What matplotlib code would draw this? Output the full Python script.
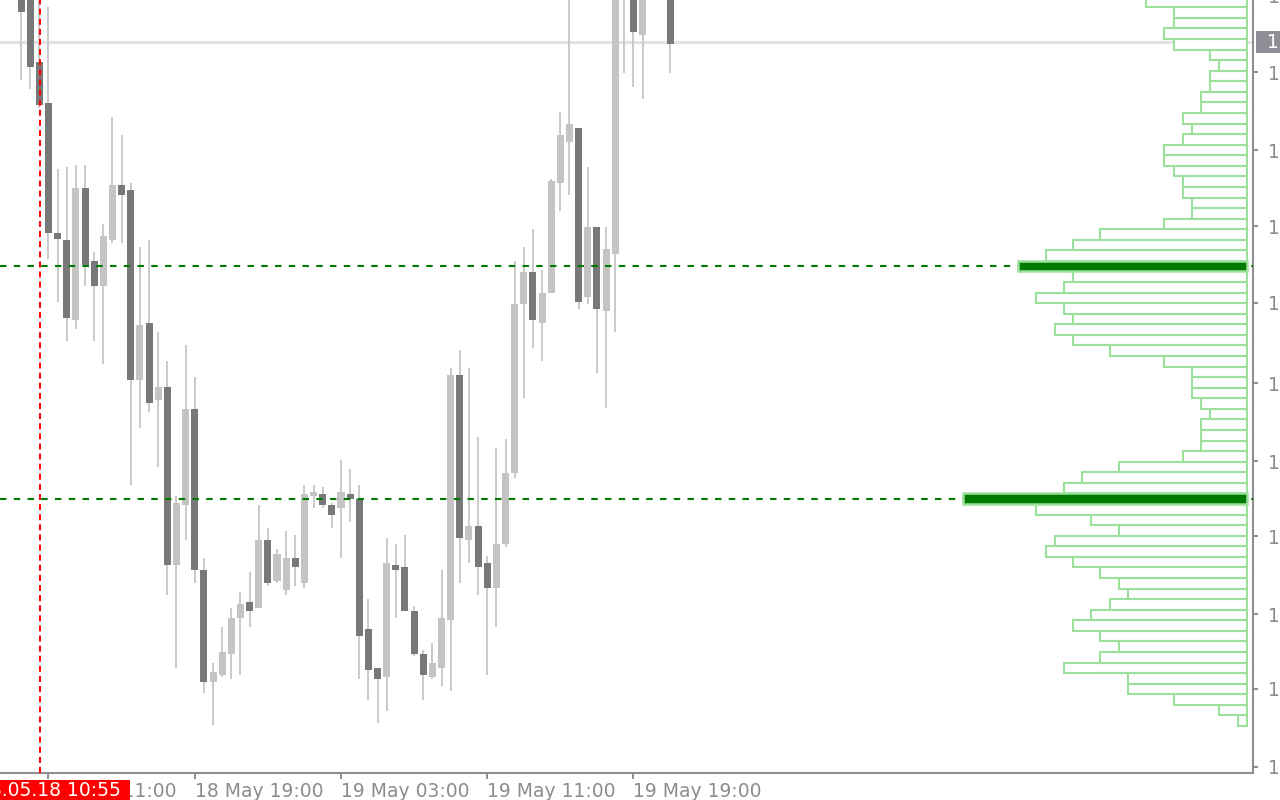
import matplotlib
matplotlib.use("Agg")
import matplotlib.pyplot as plt
from matplotlib.patches import Rectangle
import numpy as np
import pandas as pd

# ---------------- data ----------------
start_time = "2018-05-18 09:30"   # first M30 candle shown
opens = [1.18015, 1.18005, 1.17938, 1.17897, 1.17767, 1.17760, 1.17680, 1.17812, 1.17739, 1.17714,
         1.17760, 1.17815, 1.17810, 1.17620, 1.17677, 1.17600, 1.17613, 1.17435, 1.17495, 1.17591,
         1.17430, 1.17318, 1.17325, 1.17346, 1.17382, 1.17398, 1.17392, 1.17460, 1.17419, 1.17410,
         1.17442, 1.17417, 1.17504, 1.17506, 1.17495, 1.17492, 1.17506, 1.17501, 1.17371, 1.17332,
         1.17323, 1.17435, 1.17433, 1.17389, 1.17346, 1.17323, 1.17332, 1.17380, 1.17625, 1.17460,
         1.17474, 1.17437, 1.17412, 1.17456, 1.17527, 1.17696, 1.17728, 1.17677, 1.17707, 1.17817,
         1.17858, 1.17872, 1.17703, 1.17773, 1.17689, 1.17746, 1.18020, 1.18015, 1.17965, np.nan,
         np.nan, 1.18010]
highs = [1.18025, 1.18015, 1.18010, 1.17993, 1.17831, 1.17833, 1.17835, 1.17835, 1.17748, 1.17776,
         1.17883, 1.17865, 1.17817, 1.17753, 1.17760, 1.17668, 1.17639, 1.17504, 1.17655, 1.17623,
         1.17442, 1.17337, 1.17373, 1.17392, 1.17408, 1.17428, 1.17495, 1.17472, 1.17451, 1.17469,
         1.17465, 1.17515, 1.17515, 1.17513, 1.17497, 1.17540, 1.17531, 1.17515, 1.17401, 1.17332,
         1.17462, 1.17456, 1.17465, 1.17394, 1.17350, 1.17357, 1.17430, 1.17632, 1.17650, 1.17632,
         1.17563, 1.17444, 1.17552, 1.17561, 1.17739, 1.17753, 1.17771, 1.17730, 1.17821, 1.17888,
         1.18020, 1.17872, 1.17833, 1.17773, 1.17773, 1.18030, 1.18030, 1.18025, 1.18030, np.nan,
         np.nan, 1.18020]
lows = [1.17920, 1.17911, 1.17892, 1.17741, 1.17698, 1.17659, 1.17671, 1.17714, 1.17659, 1.17636,
        1.17757, 1.17757, 1.17515, 1.17572, 1.17588, 1.17533, 1.17405, 1.17332, 1.17460, 1.17417,
        1.17307, 1.17275, 1.17323, 1.17321, 1.17325, 1.17373, 1.17392, 1.17414, 1.17417, 1.17405,
        1.17414, 1.17412, 1.17492, 1.17492, 1.17472, 1.17442, 1.17478, 1.17321, 1.17300, 1.17277,
        1.17289, 1.17382, 1.17389, 1.17344, 1.17300, 1.17321, 1.17314, 1.17309, 1.17417, 1.17437,
        1.17405, 1.17325, 1.17373, 1.17453, 1.17522, 1.17602, 1.17652, 1.17639, 1.17707, 1.17789,
        1.17805, 1.17691, 1.17696, 1.17627, 1.17592, 1.17668, 1.17927, 1.17913, 1.17901, np.nan,
        np.nan, 1.17927]
closes = [1.17988, 1.17933, 1.17895, 1.17767, 1.17761, 1.17682, 1.17812, 1.17735, 1.17714, 1.17764,
          1.17815, 1.17805, 1.17620, 1.17675, 1.17597, 1.17613, 1.17435, 1.17497, 1.17591, 1.17430,
          1.17318, 1.17328, 1.17348, 1.17382, 1.17396, 1.17389, 1.17460, 1.17417, 1.17446, 1.17442,
          1.17433, 1.17506, 1.17508, 1.17495, 1.17485, 1.17508, 1.17501, 1.17364, 1.17330, 1.17321,
          1.17437, 1.17430, 1.17389, 1.17346, 1.17325, 1.17337, 1.17382, 1.17625, 1.17462, 1.17474,
          1.17433, 1.17412, 1.17456, 1.17527, 1.17696, 1.17728, 1.17680, 1.17707, 1.17819, 1.17865,
          1.17876, 1.17698, 1.17773, 1.17691, 1.17751, 1.18015, 1.18003, 1.17968, 1.18010, np.nan,
          np.nan, 1.17956]

# volume profile (tick counts per price bin, from lowest bin upward)
profile_low = 1.17274
profile_step = 0.0001057
profile_volume = [1, 3, 8, 13, 13, 20, 16, 14, 16, 19, 17, 15, 13, 14, 16, 19, 22, 21, 14, 17,
                  23, 31, 20, 18, 14, 7, 5, 5, 5, 4, 5, 6, 6, 6, 9, 15, 19, 21, 19, 20,
                  23, 20, 19, 25, 22, 19, 16, 9, 6, 6, 7, 7, 8, 9, 9, 7, 6, 7, 5, 5,
                  4, 4, 3, 4, 8, 9, 8, 8, 11]

price_ticks = [1.17928, 1.17850, 1.17774, 1.17697, 1.17617, 1.17539, 1.17464, 1.17386, 1.17311, 1.17233]
top_price_label = 1.18003
cross_price = 1.17958
cross_time_label = "18.05.18 10:55"

# ---------------- style ----------------
W, H = 1280, 800
AX_W, AX_H = 1253, 773
BULL = "#c4c4c4"
BEAR = "#787878"
WICK = "#cbcbcb"
AXC = "#8f8f8f"
TXT = "#8c8c8c"
PROF_EDGE = "#9be09b"
POC_FILL = "#007a00"
FS = 13.5

times = pd.date_range(start_time, periods=len(opens), freq="30min")
x = np.arange(len(opens))
o = np.array(opens); h = np.array(highs); l = np.array(lows); c = np.array(closes)

fig = plt.figure(figsize=(W / 100, H / 100), dpi=100)
ax = fig.add_axes([0, 1 - AX_H / H, AX_W / W, AX_H / H])
ax.set_xlim(-2.306, 134.78)
ax.set_ylim(1.18 - AX_H * 1e-5, 1.18)

# crosshair horizontal (behind)
ax.axhline(cross_price, color="#e2e2e2", lw=2.2, zorder=0.5)

# candles
valid = ~np.isnan(o)
ax.vlines(x[valid], l[valid], h[valid], color=WICK, lw=1.45, zorder=2)
up = valid & (c >= o)
dn = valid & (c < o)
ax.bar(x[up], (c - o)[up], bottom=o[up], width=0.77, color=BULL, lw=0, zorder=3)
ax.bar(x[dn], (o - c)[dn], bottom=c[dn], width=0.77, color=BEAR, lw=0, zorder=3)

# volume profile
vol = np.array(profile_volume, dtype=float)
centers = profile_low + profile_step * (np.arange(len(vol)) + 0.5)
right = 134.09
poc_idx = np.argsort(vol)[-2:]
is_poc = np.zeros(len(vol), bool); is_poc[poc_idx] = True
for pi in poc_idx:
    ax.hlines(centers[pi], -2.306, 134.78, colors=POC_FILL, lw=1.5,
              linestyles=[(0, (3.1, 3.5))], zorder=6)
ax.barh(centers[~is_poc], vol[~is_poc], left=right - vol[~is_poc], height=profile_step,
        facecolor="white", edgecolor=PROF_EDGE, lw=1.5, zorder=7)
ax.barh(centers[is_poc], vol[is_poc], left=right - vol[is_poc], height=profile_step,
        facecolor=POC_FILL, edgecolor=PROF_EDGE, lw=1.8, zorder=8)

# crosshair vertical
ax.axvline(2.07, color="red", lw=1.4, ls=(0, (3.1, 2.1)), zorder=10)

# axes styling
for s in ("top", "left"):
    ax.spines[s].set_visible(False)
for s in ("right", "bottom"):
    ax.spines[s].set_color(AXC)
    ax.spines[s].set_linewidth(1.5)
ax.yaxis.tick_right()
ax.set_yticks(price_ticks)
ax.set_yticklabels([f"{p:.5f}" for p in price_ticks])
ax.tick_params(axis="y", direction="out", length=3.6, width=1.4, color=AXC,
               labelcolor=TXT, labelsize=FS, pad=7)
tick_idx = [k for k, t in enumerate(times) if t.minute == 0 and t.hour in (3, 11, 19)]
ax.set_xticks(tick_idx)
ax.set_xticklabels([f"{times[k].day} {times[k].strftime('%b %H:%M')}" for k in tick_idx],
                   ha="left")
ax.tick_params(axis="x", direction="out", length=4.5, width=1.4, color=AXC,
               labelcolor=TXT, labelsize=FS, pad=2)
for lab in ax.get_xticklabels():
    lab.set_x(lab.get_position()[0])
ax.text(1.0, top_price_label, f"{top_price_label:.5f}", transform=ax.get_yaxis_transform(),
        ha="left", va="center", color=TXT, fontsize=FS, clip_on=False)
# shift the manual label to align with tick labels
ax.texts[-1].set_x(1.0 + 15 / AX_W)

# crosshair labels
fig.patches.append(Rectangle((0, 0), 130 / W, 20 / H, transform=fig.transFigure,
                             facecolor="red", edgecolor="none", zorder=20))
fig.text(121 / W, 1 - 790 / H, cross_time_label, ha="right", va="center", color="white",
         fontsize=FS, zorder=21)
fig.patches.append(Rectangle((1256 / W, 1 - 53 / H), 24 / W, 22 / H, transform=fig.transFigure,
                             facecolor="#8e8f96", edgecolor="none", zorder=20))
fig.text(1267 / W, 1 - 42 / H, f"{cross_price:.5f}", ha="left", va="center", color="white",
         fontsize=FS, zorder=21)

fig.savefig("out.png", dpi=100, facecolor="white")
